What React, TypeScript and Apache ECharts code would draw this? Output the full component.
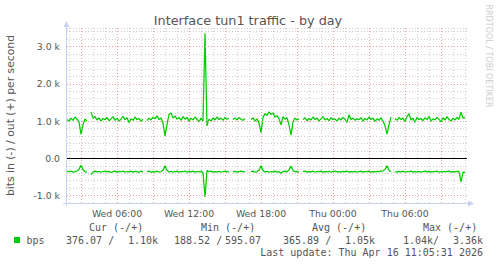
import React, { useEffect, useRef } from 'react';
import * as echarts from 'echarts';

// ---- data ----
const tickLabels = ['Wed 06:00', 'Wed 12:00', 'Wed 18:00', 'Thu 00:00', 'Thu 06:00'];
const majorYValues = [-1000, 1000, 2000, 3000];

// samples every 10 minutes starting Wed 01:50 (bits per second, out = +)
const outBps: (number | null)[] = [
  1040, 1000, 1080, 1020, 1110, 1050, 980, 650, 900, 1060,
  1000, null, 1240, 1080, 1120, 1030, 1090, 1000, 1070, 1040,
  1100, 1010, 1060, 1120, 1020, 1080, 1000, 1050, 1130, 1040,
  1090, 960, 1060, 1020, 1110, 1040, 1070, 1000, 1050, null,
  1010, 1080, 1030, 1100, 1060, 1140, 1040, 1080, 950, 600,
  900, 1180, 1220, 1080, 1140, 1050, 1100, 1020, 1120, 1050,
  1100, 1000, 1080, 1030, 1110, 1050, 980, 1080, 1000, 3360,
  870, 1050, 1000, 1090, 1030, 1110, 1040, 1080, 1020, 1100,
  1050, 1070, null, 1040, 1080, 1030, 1100, 1050, 1020, 1070,
  null, null, 1040, 1090, 1000, 1060, 950, 690, 1100, 1200,
  1150, 1250, 1180, 1220, 1100, 1150, 1060, 900, 1120, 1050,
  1090, 900, 620, 980, 1080, 1030, 1060, null, 1040, 1090,
  1010, 1070, 1030, 1110, 1040, 1080, 1000, 1060, 1120, 1030,
  1070, 1010, 1090, 1040, 1060, 1000, 1080, 1030, 1100, 1050,
  960, 1170, 1040, 1080, 1020, 1060, 1040, 1090, 1000, 1070,
  1030, 1110, 1040, 1080, 990, 1060, 1020, 1090, 1000, 880,
  650, 900, 1110, null, 1060, 1020, 1100, 1040, 1080, 990,
  1120, 1200, 1030, 1080, 960, 1100, 1040, 1070, 1010, 1090,
  1040, 1120, 1000, 1060, 1030, 1100, 1050, 980, 1090, 1030,
  1120, 1040, 1000, 1080, 1030, 1100, 1050, 1240, 1080, 1100,
  null,
];

// in = - (drawn below zero)
const inBps: (number | null)[] = [
  -350, -360, -345, -370, -355, -340, -300, -190, -300, -360,
  -370, null, -440, -370, -345, -365, -350, -375, -355, -340,
  -365, -350, -380, -355, -345, -370, -350, -360, -340, -375,
  -355, -365, -345, -370, -350, -360, -375, -345, -360, null,
  -360, -345, -370, -355, -365, -345, -375, -355, -320, -200,
  -320, -365, -350, -370, -355, -345, -370, -355, -360, -345,
  -375, -350, -365, -345, -370, -355, -360, -350, -380, -1040,
  -330, -360, -345, -370, -355, -365, -350, -375, -355, -345,
  -365, -355, null, -360, -350, -370, -355, -345, -365, -355,
  null, null, -360, -345, -370, -355, -320, -200, -330, -365,
  -350, -375, -355, -365, -345, -370, -360, -400, -355, -345,
  -365, -310, -210, -330, -360, -350, -370, null, -355, -345,
  -370, -355, -365, -345, -375, -355, -360, -345, -370, -355,
  -365, -350, -375, -355, -345, -365, -355, -370, -350, -360,
  -345, -370, -355, -365, -350, -375, -355, -345, -370, -355,
  -360, -345, -370, -355, -365, -350, -360, -345, -335, -300,
  -200, -320, -360, null, -355, -370, -350, -365, -345, -375,
  -355, -360, -345, -370, -355, -365, -350, -375, -355, -345,
  -365, -350, -370, -355, -360, -345, -375, -355, -365, -350,
  -360, -345, -370, -355, -365, -350, -360, -630, -370, -376,
  null,
];

const legendHeaders = ['Cur (-/+)', 'Min (-/+)', 'Avg (-/+)', 'Max (-/+)'];
const legendInText = ['376.07 /', '188.52 /', '365.89 /', '1.04k/'];
const legendOutText = ['1.10k', '595.07', '1.05k', '3.36k'];
const seriesName = 'bps';
const lastUpdate = 'Last update: Thu Apr 16 11:05:31 2026';

// ---- axis infrastructure ----
const START_MIN = 110; // Wed 01:50
const SLOT = 5; // minutes per category slot (one pixel)
const SLOTS = 401;
const SAMPLE_EVERY = 2; // 10-minute samples
const days = ['Wed', 'Thu'];
const pad = (n: number) => String(n).padStart(2, '0');
const categories = Array.from({ length: SLOTS }, (_, i) => {
  const t = START_MIN + SLOT * i;
  const d = Math.floor(t / 1440);
  const m = t % 1440;
  return `${days[d]} ${pad(Math.floor(m / 60))}:${pad(m % 60)}`;
});
const toData = (arr: (number | null)[]) =>
  arr.map((v, k) => [categories[k * SAMPLE_EVERY], v]);

const GREEN = '#00cc00';
const TXT = '#555555';
const AXIS = '#c9d1f5';
const MINOR = '#cfcfcf';
const MAJOR = '#eba0a0';
const SANS = '"DejaVu Sans"';
const MONO = '"DejaVu Sans Mono"';

const monoText = (text: string, x: number, y: number, align = 'left') => ({
  type: 'text',
  x,
  y,
  style: { text, fill: TXT, font: `10px ${MONO}`, align, verticalAlign: 'middle' },
});

export default function App() {
  const ref = useRef<HTMLDivElement>(null);
  useEffect(() => {
    const chart = echarts.init(ref.current!, null, { renderer: 'svg' });
    const headerX = [89, 201, 312, 423];
    const inX = [66, 174, 283, 403];
    const outX = [128, 225, 345, 453];
    chart.setOption({
      animation: false,
      backgroundColor: '#ffffff',
      grid: { left: 67, top: 28, width: 400, height: 175, containLabel: false },
      xAxis: [
        {
          type: 'category',
          data: categories,
          boundaryGap: false,
          axisLine: { show: false },
          axisTick: { show: false },
          axisLabel: {
            interval: (_i: number, v: string) => tickLabels.includes(v),
            fontSize: 9.33,
            fontFamily: 'DejaVu Sans',
            color: TXT,
            margin: 6,
          },
          splitLine: {
            show: true,
            interval: (_i: number, v: string) => v.endsWith(':00'),
            lineStyle: { color: MINOR, type: [1, 2], width: 1 },
          },
        },
        {
          type: 'category',
          data: categories,
          boundaryGap: false,
          position: 'top',
          axisLine: { show: false },
          axisTick: { show: false },
          axisLabel: { show: false },
          splitLine: {
            show: true,
            interval: (_i: number, v: string) =>
              v.endsWith(':00') && parseInt(v.slice(4, 6), 10) % 3 === 0,
            lineStyle: { color: MAJOR, type: [1, 2], width: 1 },
          },
        },
      ],
      yAxis: {
        type: 'value',
        min: -1200,
        max: 3500,
        interval: 200,
        axisLine: { show: false },
        axisTick: { show: false },
        axisLabel: {
          formatter: (v: number) =>
            v % 1000 === 0 ? (v === 0 ? '0.0' : (v / 1000).toFixed(1) + ' k') : '',
          fontSize: 9.33,
          fontFamily: 'DejaVu Sans',
          color: TXT,
          margin: 7,
        },
        splitLine: { show: true, lineStyle: { color: MINOR, type: [1, 2], width: 1 } },
      },
      series: [
        {
          type: 'line',
          name: 'out',
          xAxisIndex: 0,
          data: toData(outBps),
          symbol: 'none',
          showSymbol: false,
          connectNulls: false,
          lineStyle: { color: GREEN, width: 1.25 },
          z: 3,
          markLine: {
            silent: true,
            symbol: ['none', 'none'],
            label: { show: false },
            data: [
              ...majorYValues.map((v) => ({
                yAxis: v,
                lineStyle: { color: MAJOR, type: [1, 2], width: 1 },
              })),
              { yAxis: 0, lineStyle: { color: '#000000', type: 'solid', width: 1 } },
            ],
          },
        },
        {
          type: 'line',
          name: 'in',
          xAxisIndex: 0,
          data: toData(inBps),
          symbol: 'none',
          showSymbol: false,
          connectNulls: false,
          lineStyle: { color: GREEN, width: 1.25 },
          z: 3,
        },
      ],
      graphic: [
        {
          type: 'text',
          x: 248,
          y: 20,
          style: {
            text: 'Interface tun1 traffic - by day',
            fill: TXT,
            font: `12.8px ${SANS}`,
            align: 'center',
            verticalAlign: 'middle',
          },
        },
        {
          type: 'text',
          x: 10.5,
          y: 115.5,
          rotation: Math.PI / 2,
          style: {
            text: 'bits in (-) / out (+) per second',
            fill: TXT,
            font: `10.8px ${SANS}`,
            align: 'center',
            verticalAlign: 'middle',
          },
        },
        {
          type: 'text',
          x: 488.5,
          y: 56,
          rotation: -Math.PI / 2,
          style: {
            text: 'RRDTOOL / TOBI OETIKER',
            fill: '#cccccc',
            font: `8px ${SANS}`,
            align: 'center',
            verticalAlign: 'middle',
          },
        },
        { type: 'line', shape: { x1: 66.5, y1: 206, x2: 66.5, y2: 25 }, style: { stroke: AXIS, lineWidth: 1 }, z: 10 },
        { type: 'polygon', shape: { points: [[63.5, 27], [69.5, 27], [66.5, 21]] }, style: { fill: AXIS }, z: 10 },
        { type: 'line', shape: { x1: 63, y1: 203.5, x2: 470, y2: 203.5 }, style: { stroke: AXIS, lineWidth: 1 }, z: 10 },
        { type: 'polygon', shape: { points: [[468, 200.5], [468, 206.5], [474, 203.5]] }, style: { fill: AXIS }, z: 10 },
        ...legendHeaders.map((h, i) => monoText(h, headerX[i], 227)),
        { type: 'rect', shape: { x: 14, y: 237, width: 6, height: 6 }, style: { fill: GREEN } },
        monoText(seriesName, 26.5, 240),
        ...legendInText.map((t, i) => monoText(t, inX[i], 240)),
        ...legendOutText.map((t, i) => monoText(t, outX[i], 240)),
        monoText(lastUpdate, 483, 252, 'right'),
      ],
    });
    return () => chart.dispose();
  }, []);
  return (
    <div
      ref={ref}
      style={{ position: 'absolute', left: 0, top: 0, width: 497, height: 264 }}
    />
  );
}
